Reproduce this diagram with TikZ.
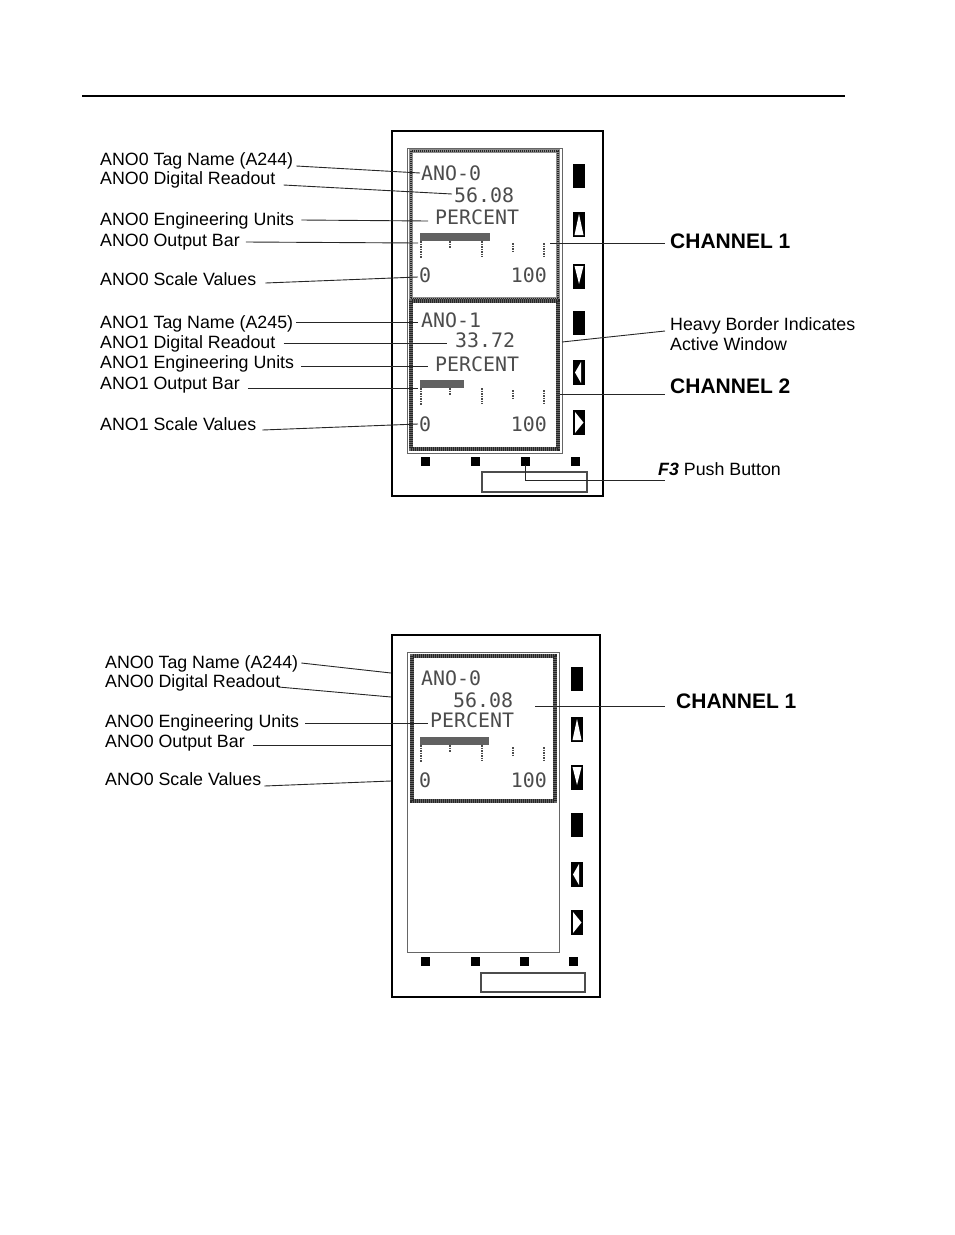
\documentclass[tikz,border=0pt]{standalone}
\usepackage{fontspec}
\setmainfont{Liberation Sans}
\newfontfamily\lcdfont{DejaVu Sans Mono}
\newcommand\lcdbar[2]{%
  \fill[black!62] (420,#1) rectangle (420+#2,#1+8);
  \draw[lcdtick] (421,#1+8) -- (421,#1+25);
  \draw[lcdtick] (450,#1+8) -- (450,#1+15);
  \draw[lcdtick] (482,#1+8) -- (482,#1+24);
  \draw[lcdtick] (513,#1+10) -- (513,#1+19);
  \draw[lcdtick] (544,#1+10) -- (544,#1+25);}
\newcommand\blkbtn[2]{\fill (#1,#2) rectangle ++(12,24);}
\newcommand\upbtn[2]{\fill (#1,#2) rectangle ++(12,25);
  \fill[white] (#1+1.5,#2+23) -- (#1+6,#2+2) -- (#1+10.5,#2+23) -- cycle;}
\newcommand\dnbtn[2]{\fill (#1,#2) rectangle ++(12,25);
  \fill[white] (#1+1.5,#2+2) -- (#1+10.5,#2+2) -- (#1+6,#2+20) -- cycle;}
\newcommand\lfbtn[2]{\fill (#1,#2) rectangle ++(12,25);
  \fill[white] (#1+2,#2+12.5) -- (#1+8,#2+2) -- (#1+8,#2+23) -- cycle;}
\newcommand\rtbtn[2]{\fill (#1,#2) rectangle ++(12,25);
  \fill[white] (#1+2,#2+2) -- (#1+2,#2+23) -- (#1+10.5,#2+12.5) -- cycle;}
\newcommand\sqbtn[2]{\fill (#1-4.5,#2-4.5) rectangle ++(9,9);}
\begin{document}
\begin{tikzpicture}[x=1pt,y=-1pt,
  lab/.style={anchor=base west, inner sep=0pt, font=\fontsize{17.8}{20}\selectfont},
  chan/.style={anchor=base west, inner sep=0pt, font=\fontsize{21}{24}\selectfont\bfseries},
  lcd/.style={anchor=base west, inner sep=0pt, text=black!70, font={\lcdfont\fontsize{19.9}{22}\selectfont}},
  leader/.style={draw=black!85, line width=0.9pt},
  lcdtick/.style={draw=black!70, line width=1.8pt, dash pattern=on 1.5pt off 1pt},
  device/.style={draw=black, line width=2pt},
  screen/.style={draw=black!60, line width=1pt},
  heavy/.style={draw=black!45, line width=3.5pt},
  heavier/.style={draw=black!60, line width=4.5pt},
  dots/.style={draw=black!85, line width=3.5pt, dash pattern=on 1pt off 1pt}]
\useasboundingbox (0,0) rectangle (954,1235);
% top rule
\draw[line width=2pt] (82,96) -- (845,96);

% ================= TOP DEVICE =================
\draw[device] (392,131) rectangle (603,496);
\draw[screen] (407,148) rectangle (562,453);
\draw[heavy] (411,151) rectangle (558,299);
\draw[dots,line width=2.5pt] (411,151) rectangle (558,299);
\draw[heavier] (411,301) rectangle (558,449);
\draw[dots,line width=4pt] (411,301) rectangle (558,449);
% right buttons
\blkbtn{573}{164}
\upbtn{573}{212}
\dnbtn{573}{264}
\blkbtn{573}{311}
\lfbtn{573}{360}
\rtbtn{573}{410}
% bottom buttons
\sqbtn{425}{461}
\sqbtn{475}{461}
\sqbtn{525}{461}
\sqbtn{575}{461}
\draw[black!70, line width=1.2pt] (482,472) rectangle (587,492);
% LCD channel 1
\node[lcd] (l1tag) at (421,180) {ANO-0};
\node[lcd] (l1val) at (454,202) {56.08};
\node[lcd] (l1unit) at (435,224) {PERCENT};
\lcdbar{233}{70}
\node[lcd] (l1lo) at (419,282) {0};
\node[lcd,anchor=base east] (l1hi) at (547,282) {100};
% LCD channel 2
\node[lcd] (l2tag) at (421,327) {ANO-1};
\node[lcd] (l2val) at (455,347) {33.72};
\node[lcd] (l2unit) at (435,371) {PERCENT};
\lcdbar{380}{44}
\node[lcd] (l2lo) at (419,431) {0};
\node[lcd,anchor=base east] (l2hi) at (547,431) {100};

% left labels
\node[lab] (a0tag) at (100,165) {ANO0 Tag Name (A244)};
\node[lab] (a0dig) at (100,184) {ANO0 Digital Readout};
\node[lab] (a0eng) at (100,225) {ANO0 Engineering Units};
\node[lab] (a0bar) at (100,246) {ANO0 Output Bar};
\node[lab] (a0scl) at (100,285) {ANO0 Scale Values};
\node[lab] (a1tag) at (100,328) {ANO1 Tag Name (A245)};
\node[lab] (a1dig) at (100,348) {ANO1 Digital Readout};
\node[lab] (a1eng) at (100,368) {ANO1 Engineering Units};
\node[lab] (a1bar) at (100,389) {ANO1 Output Bar};
\node[lab] (a1scl) at (100,430) {ANO1 Scale Values};
\coordinate (e0tag) at (420,173);
\coordinate (e0dig) at (452,194);
\coordinate (e0eng) at (428,221);
\coordinate (e0bar) at (418,243);
\coordinate (e0scl) at (418,277);
\coordinate (e1tag) at (418,322.5);
\coordinate (e1dig) at (447,343);
\coordinate (e1eng) at (428,366);
\coordinate (e1bar) at (418,388);
\coordinate (e1scl) at (418,424);
\draw[leader] ([shift={(3,1)}]a0tag.base east) -- (e0tag);
\draw[leader] ([shift={(8,1)}]a0dig.base east) -- (e0dig);
\draw[leader] ([shift={(7,-5)}]a0eng.base east) -- (e0eng);
\draw[leader] ([shift={(6,-4)}]a0bar.base east) -- (e0bar);
\draw[leader] ([shift={(9,-2)}]a0scl.base east) -- (e0scl);
\draw[leader] ([shift={(3,-5.5)}]a1tag.base east) -- (e1tag);
\draw[leader] ([shift={(8,-5)}]a1dig.base east) -- (e1dig);
\draw[leader] ([shift={(7,-2)}]a1eng.base east) -- (e1eng);
\draw[leader] ([shift={(8,-1)}]a1bar.base east) -- (e1bar);
\draw[leader] ([shift={(6,0)}]a1scl.base east) -- (e1scl);

% right labels
\node[chan] (ch1) at (670,248) {CHANNEL 1};
\node[lab] (hb1) at (670,330) {Heavy Border Indicates};
\node[lab] (hb2) at (670,350) {Active Window};
\node[chan] (ch2) at (670,393) {CHANNEL 2};
\node[lab] (f3) at (658,475) {\textbf{\textit{F3}} Push Button};
\coordinate (ech1) at (550,243.5);
\coordinate (ehb) at (562,342);
\coordinate (ech2) at (560,394);
\coordinate (ef3) at (525,465);
\draw[leader] (ech1) -- ([shift={(-5,-4.5)}]ch1.base west);
\draw[leader] (ehb) -- ([shift={(-5,1)}]hb1.base west);
\draw[leader] (ech2) -- ([shift={(-5,1)}]ch2.base west);
\draw[leader] (ef3) |- ([shift={(7,5)}]f3.base west);

% ================= BOTTOM DEVICE =================
\draw[device] (392,635) rectangle (600,997);
\draw[screen] (407,652) rectangle (559,952);
\draw[heavier] (412,656) rectangle (555,801);
\draw[dots,line width=4pt] (412,656) rectangle (555,801);
\blkbtn{571}{667}
\upbtn{571}{717}
\dnbtn{571}{765}
\blkbtn{571}{813}
\lfbtn{571}{862}
\rtbtn{571}{910}
\sqbtn{425}{961}
\sqbtn{475}{961}
\sqbtn{524}{961}
\sqbtn{573}{961}
\draw[black!70, line width=1.2pt] (481,973) rectangle (585,992);
\node[lcd] (l3tag) at (421,685) {ANO-0};
\node[lcd] (l3val) at (453,707) {56.08};
\node[lcd] (l3unit) at (430,727) {PERCENT};
\lcdbar{737}{69}
\node[lcd] (l3lo) at (419,787) {0};
\node[lcd,anchor=base east] (l3hi) at (547,787) {100};

\node[lab] (b0tag) at (105,668) {ANO0 Tag Name (A244)};
\node[lab] (b0dig) at (105,687) {ANO0 Digital Readout};
\node[lab] (b0eng) at (105,727) {ANO0 Engineering Units};
\node[lab] (b0bar) at (105,747) {ANO0 Output Bar};
\node[lab] (b0scl) at (105,785) {ANO0 Scale Values};
\node[chan] (bch1) at (676,708) {CHANNEL 1};
\coordinate (f0tag) at (391,673);
\coordinate (f0dig) at (391,697);
\coordinate (f0eng) at (428,723);
\coordinate (f0bar) at (391,745);
\coordinate (f0scl) at (391,781);
\coordinate (fch1) at (535,706);
\draw[leader] ([shift={(3,-5)}]b0tag.base east) -- (f0tag);
\draw[leader] ([shift={(-2,0)}]b0dig.base east) -- (f0dig);
\draw[leader] ([shift={(6,-4)}]b0eng.base east) -- (f0eng);
\draw[leader] ([shift={(8,-2)}]b0bar.base east) -- (f0bar);
\draw[leader] ([shift={(3,1)}]b0scl.base east) -- (f0scl);
\draw[leader] (fch1) -- ([shift={(-11,-2)}]bch1.base west);
\end{tikzpicture}
\end{document}
